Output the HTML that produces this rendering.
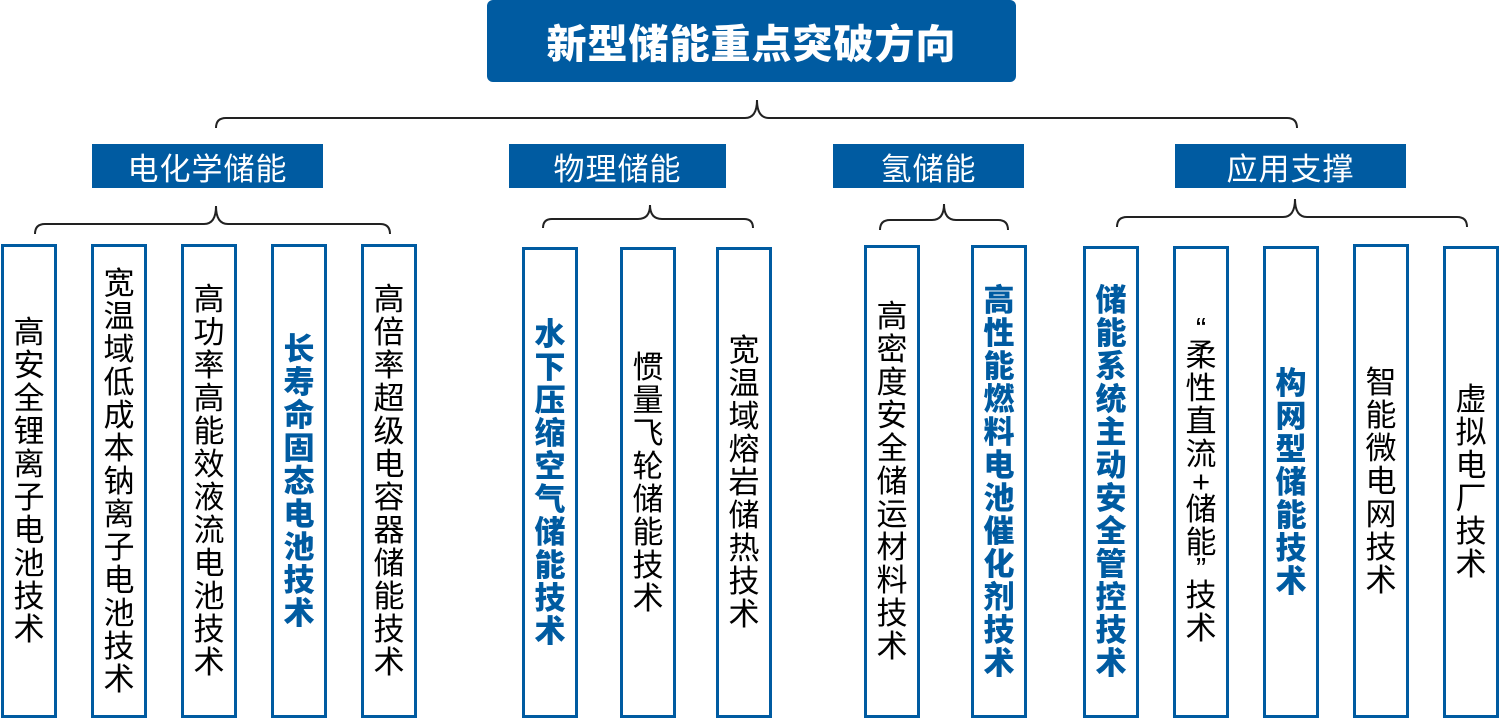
<!DOCTYPE html>
<html><head><meta charset="utf-8"><style>
body{margin:0;width:1499px;height:721px;background:#fff;position:relative;overflow:hidden;font-family:"Liberation Sans","Noto Sans CJK SC",sans-serif}
.top{position:absolute;left:487px;top:0;width:529px;height:82px;background:#005ba1;border-radius:6px;color:#fff;font-weight:900;font-size:40px;display:flex;align-items:center;justify-content:center;letter-spacing:1px}
.cat{position:absolute;top:144px;height:44px;background:#005ba1;color:#fff;font-size:31px;display:flex;align-items:center;justify-content:center;letter-spacing:1px}
.b{position:absolute;width:50px;border:3px solid #005ba1;box-sizing:content-box;display:flex;flex-direction:column;align-items:center;justify-content:center;font-size:31px;line-height:33px;color:#000;bottom:3px}
.b.s{color:#005ba1;font-weight:900}
.b span{display:block}
svg{position:absolute;left:0;top:0}
</style></head><body>
<div class="top">新型储能重点突破方向</div>
<div class="cat" style="left:92px;width:231px">电化学储能</div>
<div class="cat" style="left:509px;width:217px">物理储能</div>
<div class="cat" style="left:833px;width:191px">氢储能</div>
<div class="cat" style="left:1175px;width:231px">应用支撑</div>
<svg width="1499" height="721" fill="none" stroke="#222" stroke-width="2">
<path d="M216 128 q0-10 10-10 H745 q12 0 12-18 q0 18 12 18 H1287 q10 0 10 10"/>
<path d="M35 234 q0-10 10-10 H204 q12 0 12-18 q0 18 12 18 H380 q10 0 10 10"/>
<path d="M543 228 q0-9 9-9 H638 q12 0 12-14 q0 14 12 14 H744 q9 0 9 9"/>
<path d="M880 230 q0-10 10-10 H932 q12 0 12-16 q0 16 12 16 H998 q10 0 10 10"/>
<path d="M1117 227 q0-10 10-10 H1283 q12 0 12-18 q0 18 12 18 H1457 q10 0 10 10"/>
</svg>
<div class="b" style="left:1px;top:244px"><span>高</span><span>安</span><span>全</span><span>锂</span><span>离</span><span>子</span><span>电</span><span>池</span><span>技</span><span>术</span></div>
<div class="b" style="left:91px;top:244px"><span>宽</span><span>温</span><span>域</span><span>低</span><span>成</span><span>本</span><span>钠</span><span>离</span><span>子</span><span>电</span><span>池</span><span>技</span><span>术</span></div>
<div class="b" style="left:181px;top:244px"><span>高</span><span>功</span><span>率</span><span>高</span><span>能</span><span>效</span><span>液</span><span>流</span><span>电</span><span>池</span><span>技</span><span>术</span></div>
<div class="b s" style="left:271px;top:244px"><span>长</span><span>寿</span><span>命</span><span>固</span><span>态</span><span>电</span><span>池</span><span>技</span><span>术</span></div>
<div class="b" style="left:361px;top:244px"><span>高</span><span>倍</span><span>率</span><span>超</span><span>级</span><span>电</span><span>容</span><span>器</span><span>储</span><span>能</span><span>技</span><span>术</span></div>
<div class="b s" style="left:522px;top:247px"><span>水</span><span>下</span><span>压</span><span>缩</span><span>空</span><span>气</span><span>储</span><span>能</span><span>技</span><span>术</span></div>
<div class="b" style="left:620px;top:247px"><span>惯</span><span>量</span><span>飞</span><span>轮</span><span>储</span><span>能</span><span>技</span><span>术</span></div>
<div class="b" style="left:716px;top:247px"><span>宽</span><span>温</span><span>域</span><span>熔</span><span>岩</span><span>储</span><span>热</span><span>技</span><span>术</span></div>
<div class="b" style="left:864px;top:245px"><span>高</span><span>密</span><span>度</span><span>安</span><span>全</span><span>储</span><span>运</span><span>材</span><span>料</span><span>技</span><span>术</span></div>
<div class="b s" style="left:971px;top:245px"><span>高</span><span>性</span><span>能</span><span>燃</span><span>料</span><span>电</span><span>池</span><span>催</span><span>化</span><span>剂</span><span>技</span><span>术</span></div>
<div class="b s" style="left:1083px;top:246px"><span>储</span><span>能</span><span>系</span><span>统</span><span>主</span><span>动</span><span>安</span><span>全</span><span>管</span><span>控</span><span>技</span><span>术</span></div>
<div class="b" style="left:1173px;top:246px"><span style="line-height:20px">“</span><span>柔</span><span>性</span><span>直</span><span>流</span><span style="line-height:22px">+</span><span>储</span><span>能</span><span style="line-height:20px">”</span><span>技</span><span>术</span></div>
<div class="b s" style="left:1263px;top:246px"><span>构</span><span>网</span><span>型</span><span>储</span><span>能</span><span>技</span><span>术</span></div>
<div class="b" style="left:1353px;top:244px"><span>智</span><span>能</span><span>微</span><span>电</span><span>网</span><span>技</span><span>术</span></div>
<div class="b" style="left:1443px;top:246px"><span>虚</span><span>拟</span><span>电</span><span>厂</span><span>技</span><span>术</span></div>
</body></html>
